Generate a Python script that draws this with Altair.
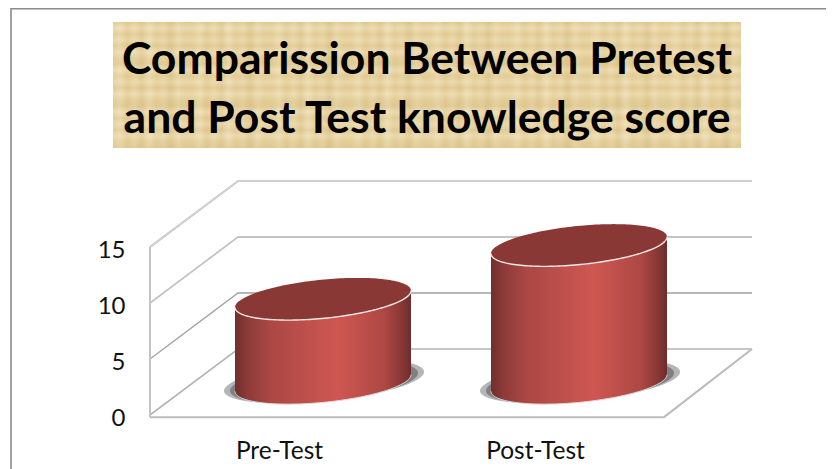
import altair as alt
import numpy as np
import pandas as pd

# ---- chart values
categories = ["Pre-Test", "Post-Test"]
scores = [7.5, 12.3]
tick_values = [0, 5, 10, 15]
title_lines = ["Comparission Between Pretest", "and Post Test knowledge score"]

W, H = 818, 461
PX = 11.2              # pixels per score unit
Y0 = 407               # plot-y of score 0 on the front edge


def vy(py):
    return (Y0 - py) / PX


FRONT_X, BACK_X, RIGHT_FRONT, RIGHT_BACK = 142, 230, 656, 744
DEPTH = 66 / PX
bar_cx = [315, 571]
bar_a = 88
slope = 0.095 / PX
bar_b = 19.4 / PX
label_x = [271, 527]

expr = f"datum.value < 400 ? '{categories[0]}' : '{categories[1]}'"
y_scale = alt.Scale(domain=[vy(H), vy(0)], range=[H, 0], nice=False, zero=False)
x_scale = alt.Scale(domain=[0, W], range=[0, W], nice=False, zero=False)
x_axis = alt.Axis(
    values=label_x, labelExpr=expr, title=None, domain=False, ticks=False, grid=False,
    labelFont="Lato", labelFontSize=24.5, labelColor="#111111", labelPadding=0,
    labelBaseline="middle", offset=-18, labelOverlap=False, labelFlush=False)
y_axis = alt.Axis(
    values=tick_values, title=None, domain=False, ticks=False, grid=False,
    labelFont="Lato", labelFontSize=24, labelColor="#111111", labelPadding=0,
    labelOffset=3, offset=-117, format="d", labelOverlap=False, labelFlush=False)
X = alt.X("x:Q", scale=x_scale, axis=x_axis, title=None)
Y = alt.Y("y:Q", scale=y_scale, axis=y_axis, title=None)


def lin(stops, horizontal=True):
    return alt.LinearGradient(
        gradient="linear", x1=0, y1=0, x2=1 if horizontal else 0, y2=0 if horizontal else 1,
        stops=[alt.GradientStop(offset=o, color=c) for o, c in stops])


def seg(rows, color, width):
    df = pd.DataFrame(rows, columns=["id", "x", "y"])
    df["o"] = range(len(df))
    return alt.Chart(df).mark_line(color=color, strokeWidth=width, clip=False).encode(
        x=X, y=Y, detail="id:N", order="o:Q")


def ellipse(cx, cv, a, b, n=90):
    t = np.linspace(0, np.pi, n)
    x = cx - a * np.cos(t)
    s = slope * (x - cx)
    dy = b * np.sin(t)
    return pd.DataFrame({"x": x, "y": cv + s + dy, "y2": cv + s - dy})


# ---- frame
frame = seg([(0, 3, vy(H)), (0, 3, vy(0.8)), (0, W, vy(0.8))], "#8c8c8c", 1.6)

# ---- title box with woven-looking parchment
box = pd.DataFrame({"x": [105], "x2": [733], "y": [vy(14)], "y2": [vy(140)]})
tint_h = ["#e6d19c", "#efdfb6", "#e2cb92", "#ecd9ab", "#dfc88f", "#f0e1bb", "#e4ce98", "#ead6a6", "#dcc58b", "#eddbb0", "#e5d09b"]
tint_v = ["#d6bd82", "#f3e6c6", "#dcc48b", "#efdfb8", "#d9c087", "#f2e4c2", "#ddc68e"]
n_h, n_v = 88, 22
weave_h = [(i / (n_h - 1), tint_h[i % len(tint_h)]) for i in range(n_h)]
weave_v = [(i / (n_v - 1), tint_v[i % len(tint_v)]) for i in range(n_v)]
box_enc = dict(x=X, x2=alt.X2("x2:Q"), y=Y, y2=alt.Y2("y2:Q"))
box_a = alt.Chart(box).mark_rect(fill=lin(weave_h)).encode(**box_enc)
box_b = alt.Chart(box).mark_rect(opacity=0.4, fill=lin(weave_v, False)).encode(**box_enc)

# ---- 3-D walls and floor
wall_colors = {0: "#b4b4b4", 5: "#a0a0a0", 10: "#c4c4c4", 15: "#cfcfcf"}
wall_width = {0: 1.6, 5: 1.3, 10: 1.8, 15: 2.2}
walls = []
for v in tick_values:
    walls.append(seg([(v, FRONT_X, v), (v, BACK_X, v + DEPTH), (v, RIGHT_BACK, v + DEPTH)],
                     wall_colors[v], wall_width[v]))
left_edge = seg([(0, FRONT_X, 15), (0, FRONT_X, -0.2)], "#c4c4c4", 2)
floor = seg([(0, FRONT_X, -0.2), (0, RIGHT_FRONT, -0.2), (0, RIGHT_BACK, DEPTH)], "#bdbdbd", 2.2)

# ---- cylinders
shade = lin([(0, "#6f2f2d"), (.07, "#8c3a38"), (.2, "#ab4744"), (.58, "#cf5752"),
             (.85, "#ad4844"), (.96, "#823533"), (1, "#6c2c2b")])
cyls = []
for cx, val in zip(bar_cx, scores):
    base_cv = 32 / PX   # centre of the base ellipse above the front edge, in score units
    top_cv = base_cv + val
    bot = ellipse(cx, base_cv, bar_a, bar_b)
    top = ellipse(cx, top_cv, bar_a, bar_b)
    sh1 = ellipse(cx + 1, base_cv + 0.15, bar_a + 12, bar_b * 1.02)
    sh2 = ellipse(cx + 1, base_cv + 0.1, bar_a + 6, bar_b * 1.0)
    body = pd.DataFrame({"x": top.x, "y": top.y2, "y2": bot.y2})
    for df, kw in [
        (sh1, dict(color="#b5b5b5")),
        (sh2, dict(color="#808080")),
        (body, dict(fill=shade)),
        (top, dict(color="#8a3836")),
    ]:
        cyls.append(alt.Chart(df).mark_area(**kw).encode(x=X, y=Y, y2=alt.Y2("y2:Q")))
    low = alt.Y("y2:Q", scale=y_scale, axis=y_axis, title=None)
    cyls.append(alt.Chart(top).mark_line(color="#f3e6e4", strokeWidth=1.4).encode(x=X, y=low))
    cyls.append(alt.Chart(bot).mark_line(color="#e6d8d6", strokeWidth=1.0).encode(x=X, y=low))

chart = alt.layer(box_a, box_b, frame, *walls, left_edge, floor, *cyls).properties(
    width=W, height=H,
    padding=0,
    autosize=alt.AutoSizeParams(type="none"),
    title=alt.TitleParams(
        text=title_lines, font="Lato", fontSize=44.5, fontWeight="bold", color="#000000",
        lineHeight=59, anchor="middle", dx=10, offset=-137),
).configure_view(stroke=None)

chart.save("out.html", embed_options={"renderer": "svg", "actions": False})
